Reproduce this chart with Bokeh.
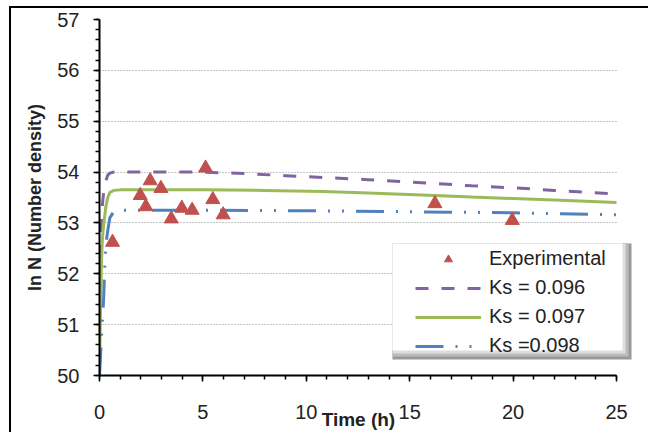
from bokeh.plotting import figure
from bokeh.models import FixedTicker, Legend, LegendItem, BoxAnnotation
from bokeh.embed import file_html
from bokeh.resources import INLINE

# Experimental data
exp_t = [0.63, 1.97, 2.24, 2.45, 2.97, 3.47, 3.98, 4.48, 5.13, 5.48, 5.98, 16.22, 19.96]
exp_lnN = [52.62, 53.54, 53.32, 53.83, 53.68, 53.08, 53.29, 53.25, 54.08, 53.46, 53.16, 53.38, 53.05]

# Model Ks = 0.096
t_096 = [0, 0.05, 0.1, 0.15, 0.2, 0.3, 0.4, 0.5, 0.7, 1, 3, 5, 7, 9, 11, 13, 16, 18, 20, 22, 25]
lnN_096 = [51.8, 52.5, 53.0, 53.4, 53.6, 53.82, 53.94, 53.98, 54.0, 54.0, 54.0, 54.0, 53.97, 53.93,
           53.89, 53.85, 53.78, 53.73, 53.69, 53.64, 53.57]

# Model Ks = 0.097
t_097 = [0, 0.05, 0.1, 0.15, 0.2, 0.3, 0.4, 0.5, 0.7, 1, 5, 8, 10.8, 13, 16.2, 18, 20, 22, 25]
lnN_097 = [50.0, 51.3, 52.3, 52.75, 52.95, 53.3, 53.5, 53.6, 53.64, 53.65, 53.65, 53.64, 53.62,
           53.59, 53.54, 53.51, 53.48, 53.45, 53.40]

# Model Ks = 0.098
t_098 = [0, 0.05, 0.1, 0.2, 0.25, 0.3, 0.4, 0.5, 0.7, 1, 5, 10, 15, 20, 25]
lnN_098 = [50.0, 50.4, 50.8, 51.5, 52.1, 52.55, 52.85, 53.1, 53.23, 53.25, 53.25, 53.24, 53.22,
           53.2, 53.16]

y_ticks = [50, 51, 52, 53, 54, 55, 56, 57]
y_minor = [50 + 0.2 * i for i in range(36)]
x_ticks = [0, 5, 10, 15, 20, 25]
x_minor = list(range(0, 26))

FONT = "Liberation Sans"

# layout (pixels)
FL, FT = 88, 11            # frame offset inside canvas
PX_X = 517 / 25.0          # px per hour
PX_Y = 356 / 7.0           # px per ln unit
EXTRA = 22                 # frame extends past t=25 so the legend can overhang the axis end
X_END = 25 + EXTRA / PX_X

p = figure(frame_width=517 + EXTRA, frame_height=356, x_range=(0, X_END), y_range=(50, 57),
           output_backend="svg", toolbar_location=None,
           min_border_left=FL, min_border_top=FT, min_border_right=10, min_border_bottom=56)
p.styles = {"margin-left": "9px", "margin-top": "6px",
            "border-top": "2px solid black", "border-left": "2px solid black"}
p.outline_line_color = None
p.background_fill_color = "white"

l1 = p.line(t_096, lnN_096, line_color="#8064A2", line_width=3, line_dash="13 13")
l2 = p.line(t_097, lnN_097, line_color="#9BBB59", line_width=3)
l3 = p.line(t_098, lnN_098, line_color="#4F81BD", line_width=3, line_dash="28 12 2 12 2 12")
s = p.scatter(exp_t, exp_lnN, marker="triangle", size=14, fill_color="#C0504D",
              line_color="#C0504D")

p.xgrid.grid_line_color = None
p.ygrid.grid_line_color = "#8c8c8c"
p.ygrid.grid_line_dash = "1 2"
p.ygrid.grid_line_width = 1
p.ygrid.cross_bounds = (0, 25)

for ax in (p.xaxis[0], p.yaxis[0]):
    ax.axis_line_width = 2
    ax.axis_line_color = "black"
    ax.major_tick_line_color = "black"
    ax.minor_tick_line_color = "black"
    ax.major_tick_line_width = 1.5
    ax.minor_tick_line_width = 1.5
    ax.major_tick_in = 0
    ax.major_tick_out = 6
    ax.minor_tick_in = 0
    ax.minor_tick_out = 4
    ax.major_label_text_font = FONT
    ax.major_label_text_font_size = "20px"
    ax.major_label_text_color = "#222222"
    ax.axis_label_text_font = FONT
    ax.axis_label_text_font_style = "bold"
    ax.axis_label_text_color = "#222222"

p.xaxis.bounds = (0, 25)
p.xaxis.ticker = FixedTicker(ticks=x_ticks, minor_ticks=x_minor)
p.yaxis.ticker = FixedTicker(ticks=y_ticks, minor_ticks=y_minor)
# trailing spaces keep the centred label over the t = 0..25 span of the axis
p.xaxis.axis_label = "Time (h)    "
p.yaxis.axis_label = "ln N (Number density)"
p.xaxis.axis_label_text_font_size = "19px"
p.yaxis.axis_label_text_font_size = "18px"
p.xaxis.major_label_standoff = 23
p.yaxis.major_label_standoff = 14
p.xaxis.axis_label_standoff = -13
p.yaxis.axis_label_standoff = 9


# legend box with soft shadow (frame pixel positions -> data coords)
def dx(px):
    return px / PX_X


def dy(py):  # py measured down from frame top
    return 57 - py / PX_Y


BX0, BY0 = 293, 224        # legend box top-left inside frame
for grow, col in ((9, "#9a9a9a"), (6, "#bcbcbc"), (3, "#dedede"), (0, "white")):
    p.add_layout(BoxAnnotation(left=dx(BX0), right=dx(523 + grow), top=dy(BY0),
                               bottom=dy(331 + grow), fill_color=col, fill_alpha=1,
                               line_color=None))

legend = Legend(items=[
    LegendItem(label="Experimental", renderers=[s]),
    LegendItem(label="Ks = 0.096", renderers=[l1]),
    LegendItem(label="Ks = 0.097", renderers=[l2]),
    LegendItem(label="Ks =0.098", renderers=[l3]),
], location=(316, 18))
legend.label_text_font = FONT
legend.label_text_font_size = "20px"
legend.label_text_color = "#222222"
legend.glyph_width = 66
legend.glyph_height = 20
legend.label_height = 20
legend.label_standoff = 8
legend.spacing = 6
legend.padding = 5
legend.margin = 0
legend.border_line_color = None
legend.background_fill_alpha = 0
p.add_layout(legend, "center")

open("out.html", "w").write(file_html(p, INLINE))
